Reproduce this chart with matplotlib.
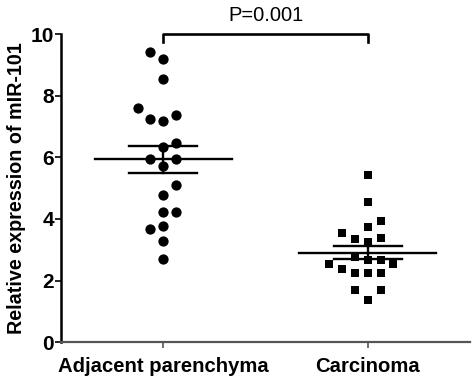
import numpy as np
import matplotlib
matplotlib.use("Agg")
import matplotlib.pyplot as plt

plt.rcParams['font.family'] = ['Liberation Sans', 'DejaVu Sans']

categories = ["Adjacent parenchyma", "Carcinoma"]
adjacent = [9.43, 9.21, 8.54, 7.59, 7.26, 7.19, 7.37, 6.47, 6.34, 5.94,
            5.94, 5.72, 5.10, 4.77, 4.23, 4.21, 3.69, 3.78, 3.29, 2.69]
carcinoma = [5.42, 4.56, 3.93, 3.74, 3.56, 3.34, 3.26, 3.39, 2.55, 2.39,
             2.77, 2.66, 2.66, 2.53, 2.23, 2.23, 2.23, 1.69, 1.69, 1.36]
y_ticks = [0, 2, 4, 6, 8, 10]
p_text = "P=0.001"
y_label = "Relative expression of mIR-101"

# layout: swarm column slots for each point
adj_slots = [-1, 0, 0, -2, -1, 0, 1, 1, 0, -1, 1, 0, 1, 0, 0, 1, -1, 0, 0, 0]
car_slots = [0, 0, 1, 0, -2, -1, 0, 1, -3, -2, -1, 0, 1, 2, -1, 0, 1, -1, 1, 0]
slot_w = 0.0625

fig = plt.figure(figsize=(4.72, 3.84), dpi=100)
ax = fig.add_axes([0.129, 0.109, 0.867, 0.802])

groups = [(adjacent, adj_slots, 'o', 7.4), (carcinoma, car_slots, 's', 6.4)]
for i, (vals, slots, mk, ms) in enumerate(groups):
    xc = i + 1
    xs = xc + np.array(slots) * slot_w
    ax.plot(xs, vals, linestyle='none', marker=mk, markersize=ms,
            color='black', markeredgewidth=0, clip_on=False, zorder=3)
    v = np.array(vals)
    m = v.mean()
    sem = v.std(ddof=1) / np.sqrt(len(v))
    ax.plot([xc - 0.335, xc + 0.335], [m, m], color='black', lw=1.7, zorder=4)
    ax.plot([xc - 0.165, xc + 0.165], [m + sem, m + sem], color='black', lw=1.7, zorder=4)
    ax.plot([xc - 0.165, xc + 0.165], [m - sem, m - sem], color='black', lw=1.7, zorder=4)
    ax.plot([xc, xc], [m - sem, m + sem], color='black', lw=1.7, zorder=4)

# significance bracket
ax.plot([1, 1, 2, 2], [9.75, 10.02, 10.02, 9.75], color='black', lw=1.9,
        clip_on=False, solid_joinstyle='round')
ax.text(1.5, 10.3, p_text, ha='center', va='bottom', fontsize=14.5)

ax.set_xlim(0.5, 2.5)
ax.set_ylim(0, 10)
ax.set_yticks(y_ticks)
ax.set_yticklabels([str(t) for t in y_ticks], fontsize=15, fontweight='bold')
ax.set_xticks([1, 2])
ax.set_xticklabels(categories, fontsize=14.6, fontweight='bold')
ax.set_ylabel(y_label, fontsize=14.2, fontweight='bold', labelpad=3)

for s in ['top', 'right']:
    ax.spines[s].set_visible(False)
ax.spines['left'].set_linewidth(1.8)
ax.spines['bottom'].set_linewidth(1.6)
ax.spines['bottom'].set_color('#555555')
ax.tick_params(axis='y', length=4, width=1.2, pad=1)
ax.tick_params(axis='x', length=4, width=1.2, color='#555555', pad=7)

fig.savefig("out.png", dpi=100)
